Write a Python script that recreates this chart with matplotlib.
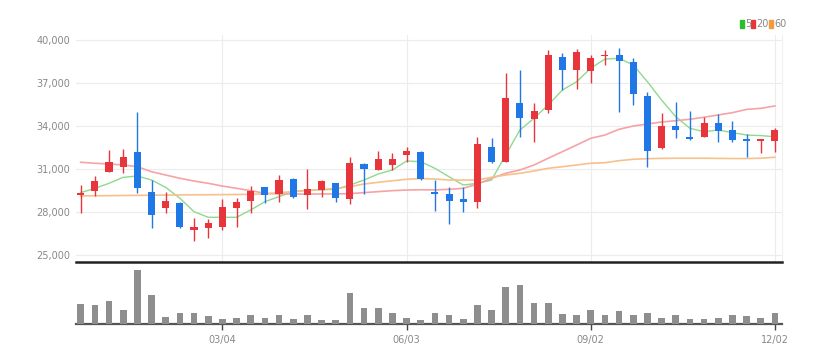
import numpy as np
import matplotlib
matplotlib.use('Agg')
import matplotlib.pyplot as plt
from matplotlib.patches import Rectangle

plt.rcParams['font.family'] = ['Liberation Sans Narrow', 'DejaVu Sans Condensed', 'DejaVu Sans']

# weekly candles (price in won)
opens = [29190, 29490, 30810, 31160, 32210, 29370, 28260, 28650, 26740, 26900,
         26980, 28260, 28770, 29720, 29240, 30280, 29190, 29540, 29990, 28890,
         31330, 30930, 31280, 31980, 32210, 29420, 29260, 28930, 28680, 32560,
         31510, 35580, 34470, 35120, 38790, 37910, 37860, 38900, 38950, 38490,
         36090, 32440, 34000, 33250, 33250, 34190, 33720, 33070, 32950, 32980]
closes = [29300, 30180, 31470, 31860, 29650, 27790, 28770, 26980, 26980, 27210,
          28330, 28720, 29490, 29190, 30230, 29070, 29630, 30140, 28960, 31400,
          30980, 31700, 31700, 32280, 30300, 29260, 28790, 28680, 32740, 31510,
          35930, 34540, 35050, 38950, 37910, 39140, 38720, 38970, 38560, 36230,
          32280, 34000, 33720, 33110, 34190, 33670, 33020, 32950, 33070, 33720]
highs = [29880, 30510, 32330, 32370, 35000, 30230, 29420, 28700, 27560, 27490,
         28890, 28960, 29810, 29750, 30560, 30350, 31000, 30230, 30050, 31820,
         31400, 32240, 32130, 32560, 32250, 30230, 29770, 29770, 33250, 33180,
         37720, 37910, 35630, 39300, 39120, 39350, 38950, 39300, 39420, 38720,
         36390, 34880, 35700, 35050, 34610, 34840, 34370, 33440, 33100, 33880]
lows = [27950, 29120, 30800, 30700, 29300, 26860, 27910, 26900, 26000, 26170,
        26740, 26980, 27950, 28610, 28720, 28950, 28210, 29070, 28720, 28560,
        29260, 30900, 30930, 31510, 30250, 28090, 27160, 28020, 28260, 31400,
        31500, 33250, 32910, 34880, 36510, 36560, 36980, 38260, 35000, 35470,
        31120, 32400, 33140, 33020, 33200, 32910, 32910, 31820, 32100, 32210]

ma5 = [29350, 29650, 30000, 30420, 30510, 30230, 29720, 28960, 28020, 27630,
       27630, 27630, 28140, 28720, 29070, 29420, 29540, 29540, 29580, 29880,
       30230, 30650, 30930, 31560, 31510, 31050, 30460, 29880, 30000, 30230,
       31980, 33720, 34540, 35470, 36510, 37090, 38030, 38670, 38720, 38260,
       37090, 35810, 34650, 33840, 33600, 33720, 33540, 33370, 33330, 33250]
ma20 = [31470, 31400, 31350, 31280, 31160, 30810, 30580, 30350, 30160, 30000,
        29810, 29650, 29490, 29300, 29260, 29260, 29240, 29260, 29260, 29280,
        29350, 29420, 29490, 29530, 29550, 29540, 29580, 29650, 29950, 30350,
        30700, 30930, 31280, 31750, 32210, 32670, 33140, 33370, 33770, 34000,
        34140, 34280, 34370, 34470, 34610, 34770, 34930, 35160, 35230, 35400]
ma60 = [29120, 29130, 29140, 29150, 29160, 29170, 29180, 29190, 29200, 29200,
        29210, 29220, 29230, 29260, 29350, 29420, 29490, 29570, 29650, 29770,
        29950, 30070, 30180, 30280, 30330, 30300, 30230, 30230, 30230, 30420,
        30580, 30700, 30860, 31050, 31160, 31280, 31400, 31440, 31580, 31680,
        31720, 31740, 31750, 31750, 31750, 31740, 31730, 31730, 31750, 31820]

# volume (thousand shares)
volumes = [200, 190, 223, 133, 540, 287, 67, 110, 107, 73,
           50, 57, 87, 57, 90, 50, 90, 40, 40, 307,
           157, 157, 103, 57, 40, 110, 87, 50, 183, 133,
           367, 390, 207, 207, 100, 83, 133, 90, 123, 83,
           107, 57, 83, 50, 50, 57, 83, 73, 57, 107]

tick_pos = [10, 23, 36, 49]
tick_labels = ['03/04', '06/03', '09/02', '12/02']
yticks = [25000, 28000, 31000, 34000, 37000, 40000]

UP = '#e8353b'
DOWN = '#1f78e6'
TXT = '#888888'

W, H = 834, 364
fig = plt.figure(figsize=(W / 100, H / 100), dpi=100)

def fax(l, t, r, b):
    return fig.add_axes([l / W, 1 - b / H, (r - l) / W, (b - t) / H])

ax = fax(76, 35, 782, 262)
axv = fax(76, 266, 782, 323.5)

x = np.arange(len(opens))
o = np.array(opens); c = np.array(closes)
col = [UP if cc >= oo else DOWN for oo, cc in zip(o, c)]

# price panel
ax.vlines(x, lows, highs, colors=col, linewidth=1, zorder=3)
body = np.maximum(np.abs(c - o), 60)
ax.bar(x, body, bottom=np.minimum(o, c), width=0.5, color=col, zorder=4)
ax.plot(x, ma5, color='#8fd98f', lw=1, zorder=2)
ax.plot(x, ma20, color='#f5a3a6', lw=1.2, zorder=2)
ax.plot(x, ma60, color='#f8c08c', lw=1.2, zorder=2)

ax.set_xlim(-0.33, 49.5)
ax.set_ylim(24510, 40350)
ax.set_yticks(yticks)
ax.set_yticklabels([f'{v:,}' for v in yticks], color=TXT, fontsize=7)
ax.set_xticks(tick_pos)
ax.tick_params(axis='x', length=0, labelbottom=False)
ax.tick_params(axis='y', length=0, pad=4)
ax.grid(True, color='#ececec', lw=0.8, zorder=0)
for s in ['top', 'left']:
    ax.spines[s].set_visible(False)
ax.spines['right'].set_color('#f0f0f0')
ax.spines['bottom'].set_color('#222222')
ax.spines['bottom'].set_linewidth(1.8)

# volume panel
axv.bar(x, volumes, width=0.47, color='#8e8e8e', zorder=3)
axv.set_xlim(-0.33, 49.5)
axv.set_ylim(0, 575)
axv.set_yticks([])
axv.set_xticks(tick_pos)
axv.set_xticklabels(tick_labels, color=TXT, fontsize=7)
axv.tick_params(axis='x', length=4, width=1, color='#444444', pad=4)
for s in ['top', 'left', 'right']:
    axv.spines[s].set_visible(False)
axv.spines['bottom'].set_color('#555555')
axv.spines['bottom'].set_linewidth(1.6)

# legend
for px, lab, cl in [(740, '5', '#2bbf2b'), (751, '20', UP), (769, '60', '#f29a3c')]:
    fig.patches.append(Rectangle((px / W, 1 - 28 / H), 3.5 / W, 8 / H,
                                 transform=fig.transFigure, color=cl))
    fig.text((px + 5) / W, 1 - 24 / H, lab, color=TXT, fontsize=7, va='center')

fig.savefig('out.png', dpi=100, facecolor='white')
